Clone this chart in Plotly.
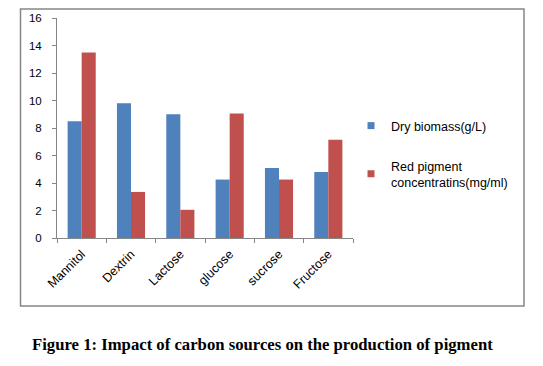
import plotly.graph_objects as go

categories = ["Mannitol", "Dextrin", "Lactose", "glucose", "sucrose", "Fructose"]
dry_biomass = [8.5, 9.8, 9.0, 4.25, 5.1, 4.8]
red_pigment = [13.5, 3.35, 2.05, 9.05, 4.25, 7.15]
series_names = ["Dry biomass(g/L)", "Red pigment<br>concentratins(mg/ml)"]
y_ticks = [0, 2, 4, 6, 8, 10, 12, 14, 16]
title_text = "Figure 1: Impact of carbon sources on the production of pigment"

BLUE = "#4F81BD"
RED = "#C0504D"
FONT = "Liberation Sans, Arial, sans-serif"

# page has an 8px body margin; work in page pixels and convert
OFF = 8
W, H = 543 - OFF, 366 - OFF
L = 57 - OFF
T = 18 - OFF
R = W - (353 - OFF)
B = H - (238 - OFF)
pw = W - L - R
ph = H - T - B


def px_x(p):
    return (p - OFF - L) / pw


def px_y(p):
    return 1 - (p - OFF - T) / ph


fig = go.Figure()
fig.add_trace(go.Bar(x=categories, y=dry_biomass, marker_color=BLUE, marker_line_width=0,
                     showlegend=False))
fig.add_trace(go.Bar(x=categories, y=red_pigment, marker_color=RED, marker_line_width=0,
                     showlegend=False))
# legend entries
fig.add_trace(go.Scatter(x=[None], y=[None], mode="markers", name=series_names[0],
                         marker=dict(symbol="square", size=7, color=BLUE), legend="legend"))
fig.add_trace(go.Scatter(x=[None], y=[None], mode="markers", name=series_names[1],
                         marker=dict(symbol="square", size=7, color=RED), legend="legend2"))

fig.update_layout(
    width=W, height=H,
    margin=dict(l=L, r=R, t=T, b=B, autoexpand=False),
    paper_bgcolor="white", plot_bgcolor="white",
    barmode="group", bargap=0.43, bargroupgap=0,
    font=dict(family=FONT, size=11, color="#000000"),
    xaxis=dict(showline=True, linecolor="#868686", linewidth=1, ticks="outside",
               tickson="boundaries", ticklen=4, tickcolor="#868686", tickangle=-45,
               showgrid=False, automargin=False, ticklabelstandoff=3,
               tickfont=dict(size=12.5, color="#000000")),
    yaxis=dict(range=[0, 16], tickvals=y_ticks, showline=True, linecolor="#868686",
               linewidth=1, ticks="outside", ticklen=4, tickcolor="#868686",
               showgrid=False, zeroline=False, automargin=False, ticklabelstandoff=8,
               tickfont=dict(size=11.5, color="#000000")),
    legend=dict(x=px_x(351), y=px_y(111), xanchor="left", yanchor="top",
                itemsizing="trace", font=dict(size=12.5), bgcolor="rgba(0,0,0,0)"),
    legend2=dict(x=px_x(351), y=px_y(151), xanchor="left", yanchor="top",
                 itemsizing="trace", font=dict(size=12.5), bgcolor="rgba(0,0,0,0)"),
    shapes=[dict(type="rect", xref="paper", yref="paper",
                 x0=px_x(20.5), x1=px_x(524), y0=px_y(306), y1=px_y(OFF + 1),
                 line=dict(color="#868686", width=1.5), fillcolor="rgba(0,0,0,0)", layer="below")],
    annotations=[dict(text="<b>" + title_text + "</b>", xref="paper", yref="paper",
                      x=px_x(262), y=px_y(344), xanchor="center", yanchor="middle",
                      showarrow=False,
                      font=dict(family="Liberation Serif, Times New Roman, serif", size=16.7,
                                color="#000000"))],
)

fig.write_html("out.html")
